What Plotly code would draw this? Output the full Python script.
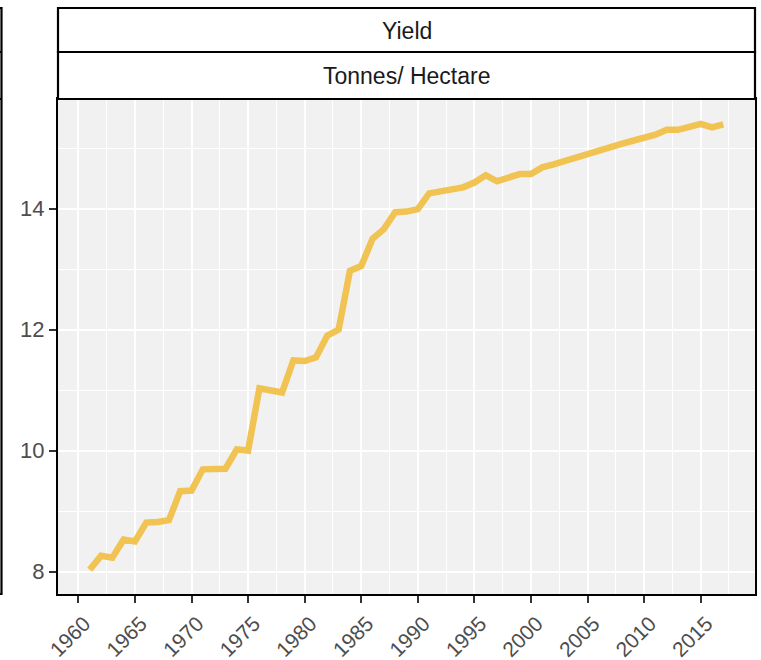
import plotly.graph_objects as go

years = list(range(1961, 2018))
yield_t_ha = [
    8.03, 8.26, 8.23, 8.53, 8.50, 8.81, 8.82, 8.85, 9.33, 9.34,
    9.69, 9.69, 9.70, 10.02, 10.00, 11.03, 10.99, 10.96, 11.49, 11.48,
    11.54, 11.90, 12.00, 12.97, 13.05, 13.50, 13.66, 13.94, 13.95, 13.99,
    14.25, 14.29, 14.32, 14.35, 14.43, 14.55, 14.45, 14.52, 14.57, 14.57,
    14.68, 14.73, 14.79, 14.84, 14.91, 14.96, 15.01, 15.07, 15.12, 15.17,
    15.22, 15.30, 15.30, 15.35, 15.40, 15.34, 15.39,
]
strip_labels = ["Yield", "Tonnes/ Hectare"]

W, H = 761, 660
L, R, T, B = 58, 755, 99, 594  # plot area in pixels


def px(x):
    return (x - L) / (R - L)


def py(y):
    return (B - y) / (B - T)


FONT = "Liberation Sans, Arial, sans-serif"

fig = go.Figure()
fig.add_trace(go.Scatter(
    x=years, y=yield_t_ha, mode="lines",
    line=dict(color="#F1C353", width=6.5),
    hoverinfo="skip", showlegend=False,
))

axis_common = dict(
    showline=True, mirror=True, linecolor="black", linewidth=2.2,
    ticks="outside", ticklen=7, tickwidth=2, tickcolor="#333333",
    gridcolor="white", gridwidth=2, zeroline=False, automargin=False,
)

fig.update_xaxes(
    range=[1958.2, 2019.8], tick0=1960, dtick=5, tickangle=-45,
    ticklabelshift=6,
    tickfont=dict(family=FONT, size=21, color="#4D4D4D"),
    minor=dict(tick0=1960, dtick=2.5, showgrid=True, gridcolor="white", gridwidth=1, ticks=""),
    **axis_common,
)
fig.update_yaxes(
    range=[7.63, 15.81], tick0=8, dtick=2,
    tickfont=dict(family=FONT, size=22, color="#4D4D4D"),
    minor=dict(tick0=8, dtick=1, showgrid=True, gridcolor="white", gridwidth=1, ticks=""),
    **axis_common,
)

shapes = []
# facet strips
shapes.append(dict(type="rect", xref="paper", yref="paper",
                   x0=0, x1=1, y0=py(52), y1=py(8),
                   fillcolor="white", line=dict(color="black", width=2.2)))
shapes.append(dict(type="rect", xref="paper", yref="paper",
                   x0=0, x1=1, y0=py(99), y1=py(52),
                   fillcolor="white", line=dict(color="black", width=2.2)))
# edge of neighbouring facet on the left
shapes.append(dict(type="rect", xref="paper", yref="paper",
                   x0=px(-20), x1=px(1.5), y0=py(594), y1=py(8),
                   fillcolor="rgba(0,0,0,0)", line=dict(color="black", width=2.2)))
for yy in (52, 99):
    shapes.append(dict(type="line", xref="paper", yref="paper",
                       x0=px(-20), x1=px(1.5), y0=py(yy), y1=py(yy),
                       line=dict(color="black", width=2.2)))

annotations = []
for text, yc in zip(strip_labels, (30.5, 76)):
    annotations.append(dict(
        text=text, xref="paper", yref="paper", x=0.5, y=py(yc),
        showarrow=False, xanchor="center", yanchor="middle",
        font=dict(family=FONT, size=23, color="#1A1A1A"),
    ))

fig.update_layout(
    width=W, height=H,
    margin=dict(l=L, r=W - R, t=T, b=H - B, pad=0, autoexpand=False),
    paper_bgcolor="white", plot_bgcolor="#F1F1F1",
    shapes=shapes, annotations=annotations,
    showlegend=False,
)

fig.write_html(
    "out.html",
    config={"displayModeBar": False},
    post_script="document.body.style.margin='0';document.body.style.overflow='hidden';",
)
